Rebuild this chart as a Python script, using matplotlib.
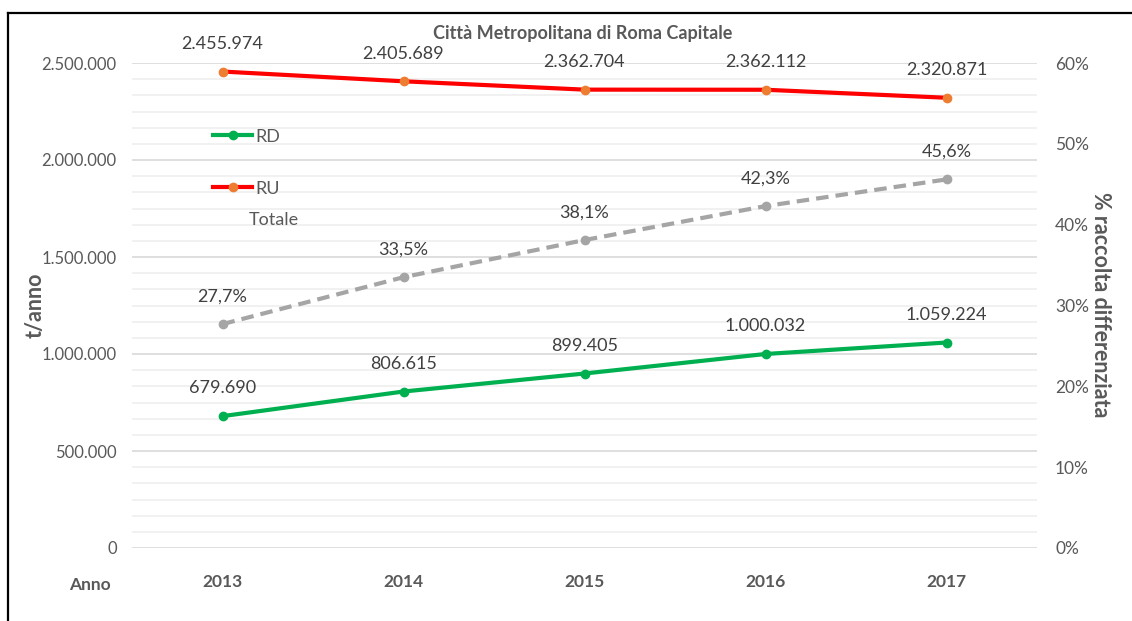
import matplotlib
matplotlib.use("Agg")
import matplotlib.pyplot as plt
from matplotlib.lines import Line2D
from matplotlib.ticker import MultipleLocator, FuncFormatter

years = ["2013", "2014", "2015", "2016", "2017"]
rd = [679690, 806615, 899405, 1000032, 1059224]
ru = [2455974, 2405689, 2362704, 2362112, 2320871]
pct = [27.7, 33.5, 38.1, 42.3, 45.6]

plt.rcParams['font.family'] = ['Lato', 'DejaVu Sans']
TXT = '#595959'
LBL = '#404040'

fig = plt.figure(figsize=(11.32, 6.21), dpi=100)
ax = fig.add_axes([132/1132, 1-548/621, (1037-132)/1132, (548-63)/621])
ax2 = ax.twinx()

def it(v):
    return f"{int(round(v)):,}".replace(",", ".")

x = list(range(len(years)))
ax.set_xlim(-0.5, len(years)-0.5)
ax.set_ylim(0, 2500000)
ax2.set_ylim(0, 60)

ax.yaxis.set_major_locator(MultipleLocator(500000))
ax.yaxis.set_minor_locator(MultipleLocator(500000/6))
ax.yaxis.set_major_formatter(FuncFormatter(lambda v, p: it(v)))
ax.grid(which='major', axis='y', color='#D9D9D9', lw=1.2, zorder=0)
ax.grid(which='minor', axis='y', color='#EFEFEF', lw=1.2, zorder=0)
ax.set_axisbelow(True)

ax2.yaxis.set_major_locator(MultipleLocator(10))
ax2.yaxis.set_major_formatter(FuncFormatter(lambda v, p: f"{int(v)}%"))

for a in (ax, ax2):
    for s in a.spines.values():
        s.set_visible(False)
ax.tick_params(axis='y', which='both', length=0, labelsize=12, labelcolor=TXT, pad=11)
ax2.tick_params(axis='y', which='both', length=0, labelsize=12.5, labelcolor=TXT, pad=13)
ax.set_xticks(x)
ax.set_xticklabels(years, fontweight='bold')
ax.tick_params(axis='x', length=0, labelsize=12.5, labelcolor=TXT, pad=19)

l_rd, = ax.plot(x, rd, color='#00B050', lw=3, marker='o', ms=6,
                markerfacecolor='#00B050', markeredgecolor='#00B050', zorder=3)
l_ru, = ax.plot(x, ru, color='#FF0000', lw=3, marker='o', ms=6,
                markerfacecolor='#ED7D31', markeredgecolor='#ED7D31', zorder=3)
ax2.plot(x, pct, color='#A5A5A5', lw=3, ls=(0, (3, 1.7)), marker='o', ms=6,
         markerfacecolor='#A5A5A5', markeredgecolor='#A5A5A5', zorder=3)

for xi, v in zip(x, rd):
    ax.annotate(it(v), (xi, v), xytext=(0, 20), textcoords='offset points',
                ha='center', va='center', fontsize=13, color=LBL)
for xi, v in zip(x, ru):
    ax.annotate(it(v), (xi, v), xytext=(0, 20), textcoords='offset points',
                ha='center', va='center', fontsize=13, color=LBL)
for xi, v in zip(x, pct):
    ax2.annotate(f"{v:.1f}".replace(".", ",") + "%", (xi, v), xytext=(0, 20),
                 textcoords='offset points', ha='center', va='center',
                 fontsize=13, color=LBL)

leg = ax.legend([l_rd, l_ru], ["RD", "RU"], loc='upper left',
                bbox_to_anchor=((200-132)/905, 1-(116-63)/485),
                frameon=False, fontsize=13, labelcolor=TXT, handlelength=2.2,
                handletextpad=0.15, labelspacing=2.0, borderpad=0.2)
fig.text(249/1132, 1-220/621, "Totale", fontsize=13, color=TXT, ha='left', va='center')

fig.text(583/1132, 1-33/621, "Città Metropolitana di Roma Capitale", fontsize=13,
         fontweight='bold', color=TXT, ha='center', va='center')
fig.text(35/1132, 1-305/621, "t/anno", fontsize=15.5, fontweight='bold', color=TXT,
         rotation=90, ha='center', va='center')
fig.text(1100/1132, 1-305/621, "% raccolta differenziata", fontsize=15.5,
         fontweight='bold', color=TXT, rotation=270, ha='center', va='center')
fig.text(90/1132, 1-585/621, "Anno", fontsize=12.5, fontweight='bold', color=TXT,
         ha='center', va='center')

fig.add_artist(Line2D([8/1132, 1], [1-13/621, 1-13/621], color='black', lw=1.6))
fig.add_artist(Line2D([8/1132, 8/1132], [1-13/621, 0], color='black', lw=1.6))

fig.savefig("out.png", dpi=100)
